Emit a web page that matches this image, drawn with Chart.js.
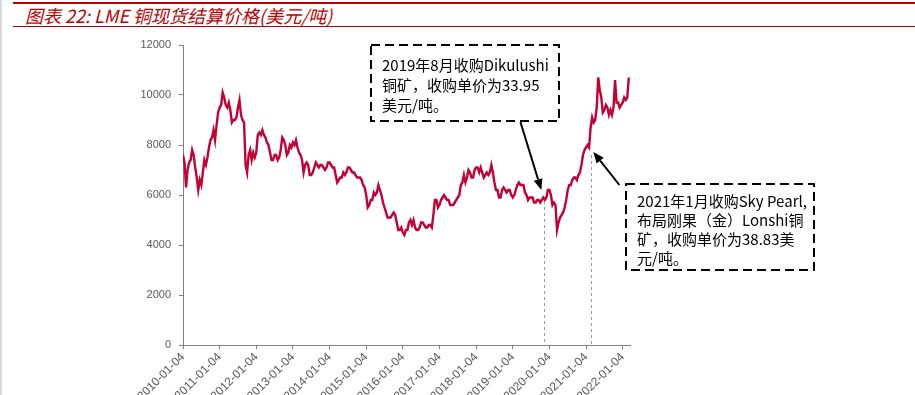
<!DOCTYPE html>
<html>
<head>
<meta charset="utf-8">
<script src="https://cdn.jsdelivr.net/npm/chart.js@4.4.1/dist/chart.umd.min.js"></script>
<style>
html, body { margin: 0; padding: 0; background: #fff; overflow: hidden; width: 915px; height: 395px; }
#wrap { position: relative; width: 915px; height: 395px; overflow: hidden; }
.rule { position: absolute; left: 13px; right: 0; background: #c00000; }
#edge { position: absolute; left: 0; top: 0; width: 2px; height: 395px; background: #d9d9d9; }
#title { position: absolute; left: 25px; top: 6px; font: italic 18px/18px "Noto Sans CJK SC", sans-serif; color: #c00000; white-space: nowrap; }
canvas { position: absolute; left: 0; top: 0; }
</style>
</head>
<body>
<div id="wrap">
  <div id="edge"></div>
  <div class="rule" style="top:2px;height:2px"></div>
  <div id="title">图表 22: LME 铜现货结算价格(美元/吨)</div>
  <div class="rule" style="top:26px;height:1px"></div>
  <canvas id="copperChart" width="915" height="405"></canvas>
</div>
<script>
// LME 铜现货结算价，每半月一个读数 (美元/吨)
const cu2010 = [7600, 7300, 6300, 7000, 7300, 7400, 7800, 7600, 7100, 6700, 6200, 6600, 6400, 6900, 7400, 7200, 7500, 7900, 8200, 8300, 8600, 8200, 8800, 9300];
const cu2011 = [9500, 9600, 10100, 9900, 9600, 9500, 9700, 9400, 8900, 9000, 9000, 9100, 9500, 9800, 9200, 9000, 8900, 7200, 6900, 7600, 7800, 7400, 7700, 7500];
const cu2012 = [7700, 8400, 8500, 8400, 8600, 8400, 8300, 8100, 8000, 7700, 7400, 7400, 7600, 7600, 7400, 7500, 7800, 8300, 8200, 8000, 7600, 7700, 8000, 7900];
const cu2013 = [8100, 8000, 8200, 7900, 7700, 7600, 7400, 6900, 7200, 7300, 7200, 6800, 6800, 6900, 7100, 7300, 7200, 7100, 7200, 7200, 7100, 7000, 7100, 7300];
const cu2014 = [7300, 7200, 7100, 7100, 6800, 6500, 6600, 6700, 6700, 6900, 6800, 6900, 7100, 7100, 7000, 6900, 6900, 6800, 6700, 6700, 6700, 6600, 6400, 6300];
const cu2015 = [6000, 5500, 5600, 5800, 5800, 6100, 6000, 6100, 6400, 6200, 6000, 5700, 5500, 5300, 5100, 5100, 5100, 5200, 5300, 5200, 4900, 4600, 4600, 4700];
const cu2016 = [4500, 4400, 4600, 4600, 4900, 5000, 4800, 5000, 4700, 4600, 4600, 4700, 4900, 4900, 4800, 4700, 4700, 4800, 4800, 4700, 5200, 5800, 5800, 5500];
const cu2017 = [5600, 5800, 5900, 6000, 5900, 5800, 5800, 5600, 5600, 5600, 5700, 5800, 5900, 6000, 6400, 6500, 6800, 6500, 6700, 7000, 6900, 6700, 6700, 7000];
const cu2018 = [7100, 7100, 6900, 7100, 6900, 6700, 6800, 6900, 6800, 6900, 7200, 6900, 6500, 6200, 6200, 5900, 5900, 6200, 6300, 6200, 6100, 6200, 6200, 6000];
const cu2019 = [5900, 6000, 6200, 6400, 6500, 6400, 6400, 6400, 6100, 6000, 5800, 5900, 5900, 5900, 5700, 5700, 5800, 5800, 5700, 5800, 5900, 5800, 5900, 6200];
const cu2020 = [6200, 6000, 5600, 5700, 5600, 4600, 4900, 5100, 5200, 5300, 5500, 5800, 6200, 6400, 6400, 6600, 6700, 6700, 6600, 6800, 6900, 7200, 7600, 7800];
const cu2021 = [7900, 8000, 7900, 8700, 9100, 8900, 9000, 9500, 10700, 10200, 9900, 9300, 9400, 9600, 9500, 9200, 9400, 9200, 9500, 10600, 9700, 9700, 9500, 9600];
const cu2022 = [9700, 9900, 9800, 9900, 10700];

const seriesYears = [2010, 2011, 2012, 2013, 2014, 2015, 2016, 2017, 2018, 2019, 2020, 2021, 2022];
const seriesByYear = [cu2010, cu2011, cu2012, cu2013, cu2014, cu2015, cu2016, cu2017, cu2018, cu2019, cu2020, cu2021, cu2022];

const xTickLabels = ['2010-01-04', '2011-01-04', '2012-01-04', '2013-01-04', '2014-01-04', '2015-01-04', '2016-01-04',
                     '2017-01-04', '2018-01-04', '2019-01-04', '2020-01-04', '2021-01-04', '2022-01-04'];
const yTicks = [0, 2000, 4000, 6000, 8000, 10000, 12000];

// 标注：虚线竖线 (日期, 顶端价格) 和 箭头 (起点 -> 终点, 数据坐标)
const guideDates = [2019.84, 2021.14];
const guideTops = [5760, 7600];
const arrowFrom = [[2019.21, 8920], [2021.91, 6400]];
const arrowTo = [[2019.78, 6200], [2021.20, 7720]];
const noteTexts = [
    ['2019年8月收购Dikulushi', '铜矿，收购单价为33.95', '美元/吨。'],
    ['2021年1月收购Sky Pearl,', '布局刚果（金）Lonshi铜', '矿，收购单价为38.83美', '元/吨。']
];

// 半月读数转成 {x: 年份小数, y: 价格}
const points = [];
seriesByYear.forEach((vals, k) => {
    vals.forEach((v, i) => points.push({ x: seriesYears[k] + i / 24, y: v }));
});

const notePlugin = {
    id: 'notes',
    afterDraw(chart) {
        const ctx = chart.ctx;
        const xs = chart.scales.x, ys = chart.scales.y;
        ctx.save();

        // 竖直虚线
        ctx.strokeStyle = '#9a9a9a';
        ctx.lineWidth = 1;
        ctx.setLineDash([3, 3]);
        guideDates.forEach((d, i) => {
            const px = Math.round(xs.getPixelForValue(d)) + 0.5;
            ctx.beginPath();
            ctx.moveTo(px, ys.getPixelForValue(guideTops[i]));
            ctx.lineTo(px, ys.getPixelForValue(0));
            ctx.stroke();
        });

        // 箭头
        ctx.setLineDash([]);
        ctx.strokeStyle = '#000';
        ctx.fillStyle = '#000';
        ctx.lineWidth = 2;
        arrowFrom.forEach((f, i) => {
            const x0 = xs.getPixelForValue(f[0]), y0 = ys.getPixelForValue(f[1]);
            const x1 = xs.getPixelForValue(arrowTo[i][0]), y1 = ys.getPixelForValue(arrowTo[i][1]);
            const a = Math.atan2(y1 - y0, x1 - x0);
            const hl = 11, hw = 4.5;
            const bx = x1 - hl * Math.cos(a), by = y1 - hl * Math.sin(a);
            ctx.beginPath();
            ctx.moveTo(x0, y0);
            ctx.lineTo(bx, by);
            ctx.stroke();
            ctx.beginPath();
            ctx.moveTo(x1, y1);
            ctx.lineTo(bx + hw * Math.sin(a), by - hw * Math.cos(a));
            ctx.lineTo(bx - hw * Math.sin(a), by + hw * Math.cos(a));
            ctx.closePath();
            ctx.fill();
        });

        // 说明框
        const boxes = [
            { x: 371, y: 45, w: 188, h: 76, tx: 382, ty: 65, lh: 20 },
            { x: 626, y: 184, w: 188, h: 86, tx: 637, ty: 201, lh: 19 }
        ];
        boxes.forEach((b, i) => {
            ctx.fillStyle = '#fff';
            ctx.fillRect(b.x, b.y, b.w, b.h);
            ctx.setLineDash([9, 5]);
            ctx.lineWidth = 2;
            ctx.strokeStyle = '#000';
            ctx.strokeRect(b.x, b.y, b.w, b.h);
            ctx.setLineDash([]);
            ctx.fillStyle = '#000';
            ctx.font = '15px "Noto Sans CJK SC"';
            ctx.textBaseline = 'middle';
            noteTexts[i].forEach((t, j) => ctx.fillText(t, b.tx, b.ty + j * b.lh));
        });
        ctx.restore();
    }
};

const ctx = document.getElementById('copperChart').getContext('2d');
const copperChart = new Chart(ctx, {
    type: 'line',
    data: {
        datasets: [{
            label: 'LME铜现货结算价',
            data: points,
            borderColor: '#c40034',
            borderWidth: 2.4,
            pointRadius: 0,
            fill: false,
            tension: 0
        }]
    },
    options: {
        responsive: false,
        animation: false,
        devicePixelRatio: 1,
        layout: { padding: { left: 133, right: 285, top: 45, bottom: 0 } },
        plugins: { legend: { display: false }, tooltip: { enabled: false } },
        scales: {
            x: {
                type: 'linear',
                min: 2010,
                max: 2022.2,
                afterBuildTicks: s => { s.ticks = seriesYears.map(v => ({ value: v })); },
                afterFit: s => { s.height = 60; },
                grid: { drawOnChartArea: false, tickLength: 4, color: '#808080' },
                border: { color: '#808080', width: 1 },
                ticks: {
                    autoSkip: false,
                    maxRotation: 45,
                    minRotation: 45,
                    padding: 1,
                    color: '#595959',
                    font: { family: 'Liberation Sans', size: 12 },
                    callback: v => xTickLabels[seriesYears.indexOf(v)]
                }
            },
            y: {
                min: 0,
                max: 12000,
                afterBuildTicks: s => { s.ticks = yTicks.map(v => ({ value: v })); },
                afterFit: s => { s.width = 50; },
                grid: { drawOnChartArea: false, tickLength: 4, color: '#808080' },
                border: { color: '#808080', width: 1 },
                ticks: {
                    padding: 8,
                    color: '#595959',
                    font: { family: 'Liberation Sans', size: 11 },
                    callback: v => String(v)
                }
            }
        }
    },
    plugins: [notePlugin]
});
</script>
</body>
</html>
